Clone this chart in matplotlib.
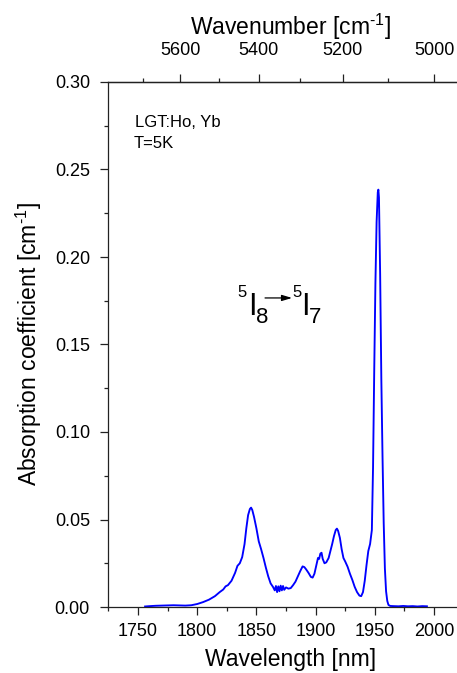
import numpy as np
import matplotlib
matplotlib.use("Agg")
from matplotlib import pyplot as plt
from matplotlib.ticker import MultipleLocator, FixedLocator

# Absorption spectrum of LGT:Ho,Yb at 5 K, 5I8 -> 5I7 band
wavelength = [
    1756, 1760, 1765, 1770, 1775, 1780, 1785, 1790, 1795, 1800,
    1805, 1810, 1815, 1819, 1822, 1824, 1826, 1829, 1832, 1834,
    1836, 1838, 1840, 1841.5, 1843, 1844.5, 1845.5, 1846.5, 1848, 1850,
    1852, 1854, 1856, 1858, 1860, 1862, 1864, 1865.5, 1866.5, 1867.5,
    1868.5, 1869.5, 1870.5, 1871.5, 1872.5, 1873.5, 1875, 1877, 1879, 1881,
    1883, 1885, 1887, 1889, 1890.5, 1892, 1894, 1896, 1897.5, 1899,
    1900.5, 1902, 1903, 1904, 1905, 1906, 1907.5, 1909, 1911, 1912.5,
    1914, 1915.5, 1917, 1918, 1919, 1920.5, 1922, 1923.5, 1925, 1927,
    1929, 1931, 1933, 1935, 1937, 1938.5, 1940, 1941.5, 1943, 1944.5,
    1946, 1947.5, 1948.5, 1949.5, 1950.5, 1951.5, 1952.5, 1953, 1953.5, 1954.5,
    1955.5, 1956.5, 1957.5, 1958.5, 1959.5, 1960.5, 1961.5, 1963, 1966, 1970,
    1974, 1978, 1982, 1986, 1990, 1994,
]
absorption = [
    0.0003, 0.0005, 0.0007, 0.0008, 0.0009, 0.0010, 0.0009, 0.0008, 0.0010, 0.0017,
    0.0028, 0.0042, 0.0062, 0.0085, 0.0100, 0.0118, 0.0125, 0.0150, 0.0195, 0.0235,
    0.0250, 0.0285, 0.0360, 0.0450, 0.0525, 0.0560, 0.0568, 0.0555, 0.0515, 0.0450,
    0.0375, 0.0330, 0.0280, 0.0225, 0.0175, 0.0135, 0.0115, 0.0095, 0.0120, 0.0085,
    0.0118, 0.0090, 0.0122, 0.0095, 0.0120, 0.0098, 0.0112, 0.0105, 0.0108, 0.0125,
    0.0145, 0.0175, 0.0205, 0.0232, 0.0228, 0.0215, 0.0195, 0.0172, 0.0168, 0.0190,
    0.0235, 0.0280, 0.0275, 0.0305, 0.0310, 0.0275, 0.0250, 0.0255, 0.0280, 0.0320,
    0.0360, 0.0405, 0.0440, 0.0448, 0.0435, 0.0395, 0.0330, 0.0280, 0.0260, 0.0230,
    0.0190, 0.0155, 0.0115, 0.0085, 0.0065, 0.0062, 0.0085, 0.0150, 0.0240, 0.0320,
    0.0360, 0.0440, 0.0800, 0.1350, 0.1850, 0.2200, 0.2370, 0.2385, 0.2340, 0.1900,
    0.1300, 0.0860, 0.0480, 0.0220, 0.0090, 0.0035, 0.0012, 0.0006, 0.0005, 0.0004,
    0.0006, 0.0004, 0.0005, 0.0003, 0.0005, 0.0004,
]

wn_major = [5000, 5200, 5400, 5600]
wn_minor = [5100, 5300, 5500, 5700]

plt.rcParams["font.family"] = ["Liberation Sans", "DejaVu Sans"]
plt.rcParams["mathtext.fontset"] = "custom"
plt.rcParams["mathtext.rm"] = "Liberation Sans"
plt.rcParams["mathtext.it"] = "Liberation Sans:italic"
plt.rcParams["mathtext.bf"] = "Liberation Sans:bold"


def nm_to_wn(x):
    x = np.asarray(x, dtype=float)
    with np.errstate(divide="ignore"):
        return 1e7 / x


fig = plt.figure(figsize=(4.57, 6.73), dpi=100)
ax = fig.add_axes([108 / 457, 66 / 673, 365 / 457, 525 / 673])

ax.plot(wavelength, absorption, color="#0000ff", lw=1.35)

ax.set_xlim(1724.7, 2032.9)
ax.set_ylim(0, 0.30)
ax.xaxis.set_major_locator(MultipleLocator(50))
ax.xaxis.set_minor_locator(MultipleLocator(25))
ax.yaxis.set_major_locator(MultipleLocator(0.05))
ax.yaxis.set_minor_locator(MultipleLocator(0.025))
ax.yaxis.set_major_formatter(matplotlib.ticker.FormatStrFormatter("%.2f"))

ax.tick_params(which="both", direction="out", labelsize=13, width=0.9, color="#222222")
ax.tick_params(which="major", length=5.5, pad=6)
ax.tick_params(which="minor", length=3)
ax.tick_params(axis="y", which="major", pad=7.5)
ax.spines["right"].set_visible(False)
for s in ["left", "bottom", "top"]:
    ax.spines[s].set_linewidth(0.9)
    ax.spines[s].set_color("#222222")

ax.set_xlabel("Wavelength [nm]", fontsize=16.5, labelpad=5.5)
ax.set_ylabel(r"Absorption coefficient [cm$^{\text{-1}}$]", fontsize=16.5, labelpad=8)

# Wavenumber scale on top
top = ax.secondary_xaxis("top", functions=(nm_to_wn, nm_to_wn))
top.xaxis.set_major_locator(FixedLocator(wn_major))
top.xaxis.set_minor_locator(FixedLocator(wn_minor))
top.tick_params(which="both", direction="out", labelsize=13, width=0.9, color="#222222")
top.tick_params(which="major", length=5.5, pad=11)
top.tick_params(which="minor", length=3)
top.spines["top"].set_linewidth(0.9)
top.set_xlabel(r"Wavenumber [cm$^{\text{-1}}$]", fontsize=16.5, labelpad=5)

# Sample info
ax.text(1747.5, 0.2766, "LGT:Ho, Yb", fontsize=12, va="center", ha="left")
ax.text(1746.0, 0.2650, "T=5K", fontsize=12, va="center", ha="left")

# Transition label 5I8 -> 5I7
ax.text(1833.6, 0.1771, "5", fontsize=12, ha="left", va="baseline")
ax.text(1842.6, 0.1669, "I", fontsize=22, ha="left", va="baseline")
ax.text(1849.9, 0.1623, "8", fontsize=16, ha="left", va="baseline")
ax.annotate("", xy=(1880.1, 0.1766), xytext=(1857.3, 0.1766),
            arrowprops=dict(arrowstyle="-|>,head_length=0.6,head_width=0.18",
                            color="black", lw=0.9, shrinkA=0, shrinkB=0))
ax.text(1880.6, 0.1771, "5", fontsize=12, ha="left", va="baseline")
ax.text(1887.6, 0.1669, "I", fontsize=22, ha="left", va="baseline")
ax.text(1894.0, 0.1623, "7", fontsize=16, ha="left", va="baseline")

fig.savefig("out.png", dpi=100)
